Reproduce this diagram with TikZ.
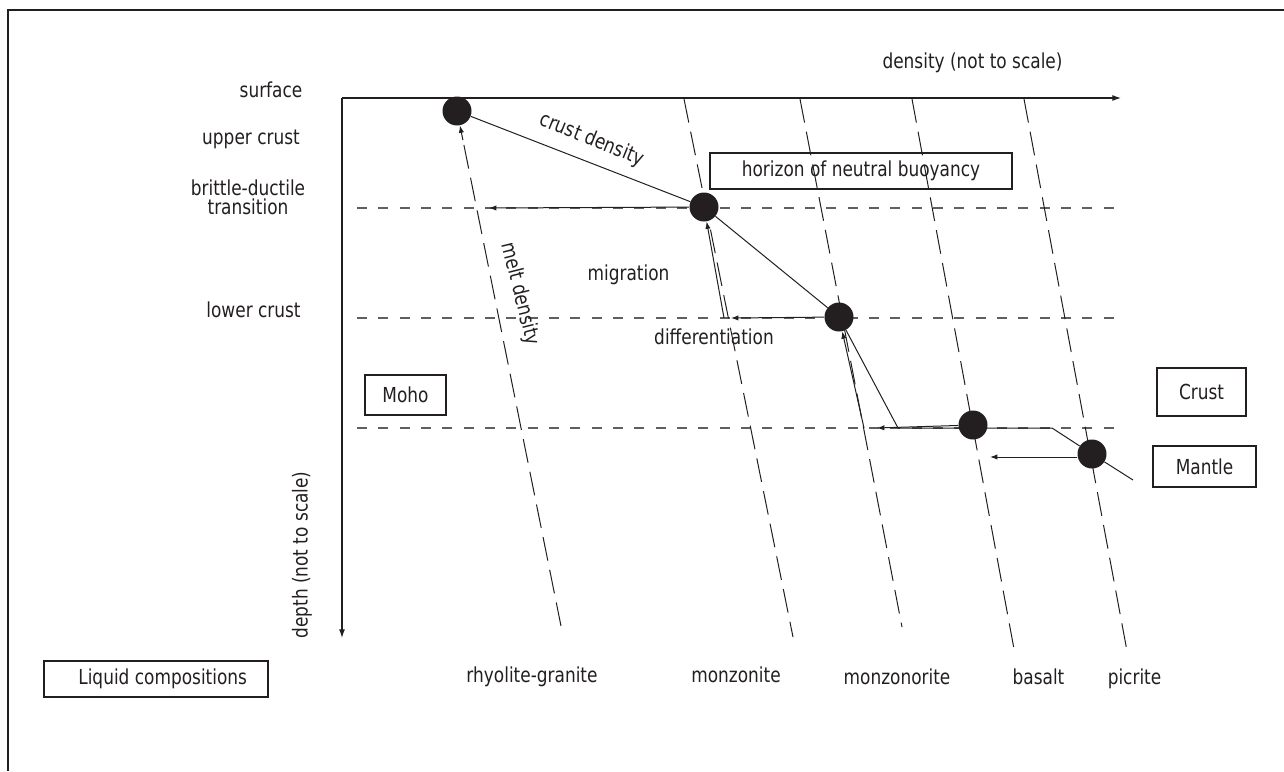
\documentclass[tikz,border=0pt]{standalone}
\usepackage{fontspec}
\setmainfont{DejaVu Sans}[FakeStretch=0.82]
\usetikzlibrary{arrows.meta}
\definecolor{ink}{RGB}{35,31,32}
\definecolor{dashgray}{RGB}{95,95,95}
\begin{document}
\begin{tikzpicture}[x=0.75pt,y=-0.75pt,
  every node/.style={font=\fontsize{15.5}{14.3}\selectfont, text=ink, inner sep=0pt},
  ln/.style={draw=ink, line width=0.75pt},
  arr/.style={ln, -{Latex[length=5.5pt,width=4pt]}},
  axisarr/.style={draw=ink, line width=0.9pt, -{Latex[length=6.5pt,width=4.5pt]}},
  level/.style={draw=dashgray, line width=0.9pt, dash pattern=on 7.5pt off 8.5pt},
  slant/.style={draw=ink, line width=0.75pt, dash pattern=on 18pt off 7pt},
  box/.style={draw=ink, line width=0.9pt},
  dot/.style={circle, fill=ink, minimum size=21.75pt, inner sep=0pt}
]
\useasboundingbox (0,0) rectangle (1284,771);

% frame
\coordinate (fb) at (8,771);
\coordinate (fc) at (8,10);
\coordinate (fr) at (1284,10);
\draw[draw=ink, line width=0.9pt] (fb) -- (fc) -- (fr);

% horizontal levels
\foreach \yy/\nm in {208/bd, 318/lc, 428/mo} {
  \coordinate (\nm L) at (357,\yy);
  \coordinate (\nm R) at (1117,\yy);
  \draw[level] (\nm L) -- (\nm R);
}

% slanted composition lines
\coordinate (mzT) at (684,99);   \coordinate (mzB) at (793,637);
\coordinate (mnT) at (800,99);   \coordinate (mnB) at (902,627);
\coordinate (baT) at (912,99);   \coordinate (baB) at (1014,649);
\coordinate (piT) at (1024,99);  \coordinate (piB) at (1127,651);
\draw[slant] (mzT) -- (mzB);
\draw[slant] (mnT) -- (mnB);
\draw[slant] (baT) -- (baB);
\draw[slant] (piT) -- (piB);

% axes
\coordinate (o) at (342,98);
\coordinate (xend) at (1121,98);
\coordinate (yend) at (342,638);
\draw[axisarr] (o) -- (xend);
\draw[axisarr] (o) -- (yend);

% dots
\node[dot] (d1) at (457,111) {};
\node[dot] (d2) at (704,207) {};
\node[dot] (d3) at (839,317) {};
\node[dot] (d4) at (973,425) {};
\node[dot] (d5) at (1092,454) {};

% melt density (dashed line, solid arrow tip)
\coordinate (rB) at (561,626);
\coordinate (rT) at (462.9,140);
\draw[slant] (rB) -- (rT);
\draw[arr] (rT) -- (d1);

% crust density path
\coordinate (c1) at (898,428);
\coordinate (c2) at (1052,428);
\coordinate (cend) at (1133,480);
\draw[ln] (d1) -- (d2);
\draw[ln] (d2) -- (d3);
\draw[ln] (d3) -- (c1) -- (c2) -- (d5);
\draw[ln] (d5) -- (cend);

% horizontal arrows
\coordinate (a2) at (489,208);
\coordinate (a3) at (731,318);
\coordinate (a4) at (877,428);
\coordinate (a5) at (990,457);
\draw[arr] (d2) -- (a2);
\draw[arr] (d3) -- (a3);
\draw[arr] (d4) -- (a4);
\draw[arr] (d5.west |- a5) -- (a5);

% upward arrows
\coordinate (b2) at (724,318);
\coordinate (b3) at (864,428);
\draw[arr] (b2) -- (d2);
\draw[arr] (b3) -- (d3);

% boxes
\node[box, minimum width=226.5pt, minimum height=27pt] (hz) at (861,171) {horizon of neutral buoyancy};
\node[box, minimum width=60.75pt, minimum height=30pt] (moho) at (405.5,395) {Moho};
\node[box, minimum width=66.75pt, minimum height=36pt] (crust) at (1201.5,392) {Crust};
\node[box, minimum width=77.25pt, minimum height=30.75pt] (mantle) at (1204.5,466.5) {Mantle};
\node[box, minimum width=168pt, minimum height=27pt] (liq) at (156,679) {\hspace{10pt}Liquid compositions};

% left labels
\node[anchor=base] (ls) at (271,97) {surface};
\node[anchor=base] (lu) at (251,144) {upper crust};
\node[align=center, font=\fontsize{15.5}{14.3}\selectfont] (lb) at (248,197) {brittle-ductile\\transition};
\node[anchor=base] (ll) at (253.5,317) {lower crust};

% axis labels
\node[anchor=base] (dens) at (972.5,68) {density (not to scale)};
\node[rotate=90] (dep) at (302,555) {depth (not to scale)};

% curve labels
\node[rotate=-22] (cd) at (592,140) {crust density};
\node[rotate=-76] (md) at (520,294) {melt density};
\node[anchor=base] (mig) at (628.5,280) {migration};
\node[anchor=base] (dif) at (714,344) {differentiation};

% bottom labels
\node[anchor=base] (t1) at (532,682) {rhyolite-granite};
\node[anchor=base] (t2) at (736,682) {monzonite};
\node[anchor=base] (t3) at (897,684) {monzonorite};
\node[anchor=base] (t4) at (1038.5,684) {basalt};
\node[anchor=base] (t5) at (1134.5,684) {picrite};
\end{tikzpicture}
\end{document}
